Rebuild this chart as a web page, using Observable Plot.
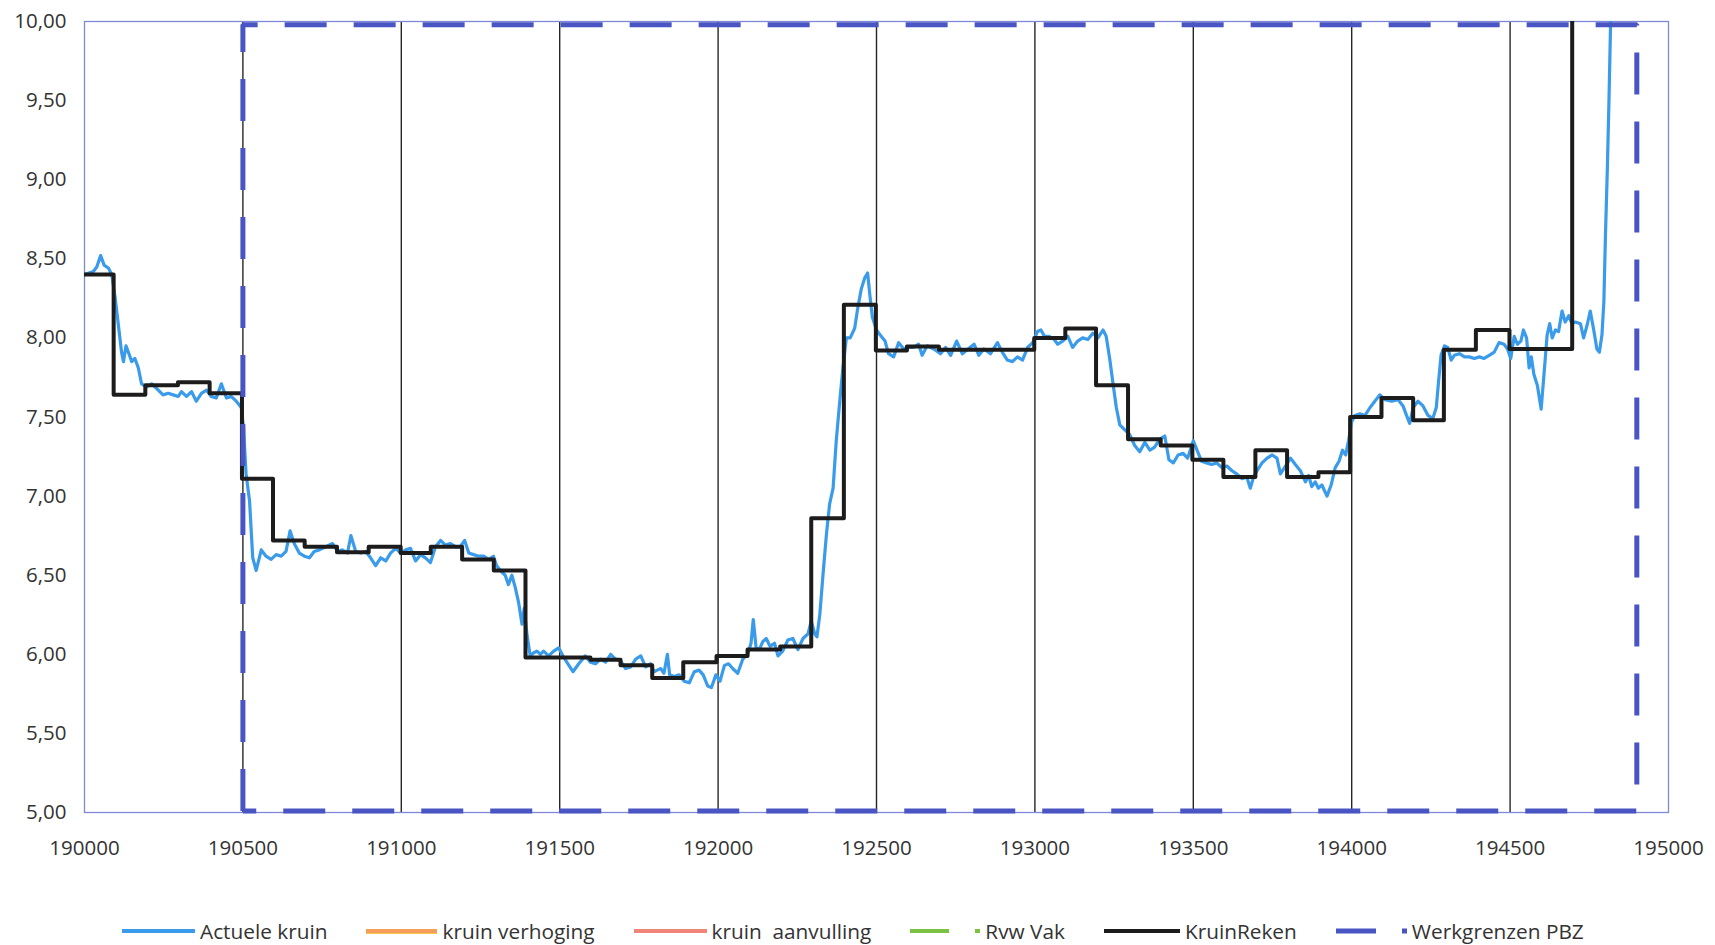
<!DOCTYPE html>
<html><head><meta charset="utf-8">
<script src="https://cdn.jsdelivr.net/npm/d3@7"></script>
<script src="https://cdn.jsdelivr.net/npm/@observablehq/plot@0.6"></script>
<style>
body{margin:0;background:#fff;font-family:"Open Sans",sans-serif;}
#legend{display:flex;align-items:center;height:29px;padding-left:122px;gap:39px;}
.item{display:flex;align-items:center;font-size:20.8px;color:#333;white-space:pre;}
.item svg{margin-right:5px;}
</style></head><body>
<div id="chart"></div><div id="legend"></div>
<script>
// Actuele kruin (measured crest level)
const actX=[190000,190028,190039,190051,190062,190076,190086,190097,190107,190117,190123,190131,190142,190149,190159,190170,190180,190196,190212,190228,190248,190264,190280,190296,190306,190322,190338,190353,190369,190385,190400,190416,190432,190448,190463,190479,190495,190502,190510,190521,190531,190542,190558,190573,190589,190605,190621,190636,190649,190662,190678,190694,190710,190725,190741,190762,190783,190799,190814,190830,190841,190856,190872,190888,190903,190919,190935,190951,190966,190982,190998,191014,191029,191045,191061,191076,191092,191108,191124,191139,191155,191171,191186,191200,191213,191228,191244,191260,191276,191291,191301,191317,191328,191338,191349,191360,191370,191381,191388,191397,191407,191418,191428,191439,191449,191465,191481,191497,191513,191529,191542,191560,191581,191597,191613,191629,191645,191661,191676,191692,191708,191724,191740,191756,191771,191787,191798,191808,191819,191829,191840,191847,191861,191877,191893,191909,191925,191940,191953,191967,191979,191993,192006,192020,192033,192046,192062,192078,192093,192104,192111,192120,192130,192141,192152,192164,192178,192189,192204,192220,192236,192252,192268,192284,192294,192305,192312,192321,192331,192342,192352,192363,192373,192384,192394,192405,192417,192431,192441,192452,192463,192472,192479,192487,192500,192511,192527,192538,192554,192570,192586,192601,192617,192633,192644,192660,192681,192702,192718,192734,192753,192771,192789,192808,192823,192839,192860,192882,192897,192913,192929,192945,192961,192977,192993,193008,193019,193030,193045,193061,193072,193088,193104,193119,193135,193151,193167,193183,193199,193215,193225,193236,193246,193257,193268,193283,193299,193315,193331,193347,193363,193378,193394,193410,193423,193437,193452,193468,193482,193500,193514,193526,193542,193558,193574,193590,193606,193622,193637,193653,193669,193680,193690,193701,193717,193733,193749,193764,193775,193791,193807,193822,193838,193854,193864,193874,193885,193895,193906,193922,193935,193948,193960,193971,193981,193990,194000,194010,194026,194042,194058,194073,194089,194105,194126,194146,194162,194173,194183,194194,194209,194225,194241,194256,194267,194274,194282,194293,194303,194314,194324,194340,194356,194371,194387,194403,194418,194434,194450,194465,194481,194492,194502,194513,194523,194534,194542,194552,194560,194567,194575,194586,194598,194607,194617,194625,194633,194643,194653,194664,194674,194685,194695,194706,194722,194732,194743,194753,194764,194774,194782,194790,194796,194801,194807,194812,194817,194820];
const actY=[8.40,8.42,8.45,8.52,8.46,8.44,8.40,8.25,8.08,7.91,7.85,7.95,7.89,7.85,7.87,7.81,7.71,7.69,7.71,7.68,7.64,7.65,7.64,7.63,7.66,7.63,7.66,7.60,7.65,7.67,7.63,7.62,7.71,7.62,7.63,7.60,7.56,7.43,7.14,6.97,6.61,6.53,6.66,6.62,6.60,6.63,6.62,6.65,6.78,6.70,6.64,6.62,6.61,6.65,6.66,6.68,6.70,6.65,6.66,6.64,6.75,6.65,6.64,6.65,6.61,6.56,6.61,6.59,6.64,6.67,6.64,6.66,6.67,6.59,6.63,6.61,6.58,6.68,6.72,6.69,6.70,6.68,6.68,6.72,6.64,6.63,6.62,6.62,6.60,6.62,6.56,6.52,6.50,6.44,6.50,6.42,6.33,6.19,6.29,6.12,5.99,6.01,6.02,6.00,6.02,5.99,6.02,6.04,5.98,5.93,5.89,5.94,5.99,5.95,5.94,5.97,5.95,6.00,5.97,5.96,5.91,5.92,5.97,5.99,5.92,5.94,5.89,5.90,5.91,5.88,6.00,5.87,5.86,5.87,5.83,5.82,5.89,5.90,5.87,5.80,5.79,5.87,5.83,5.93,5.94,5.91,5.88,5.97,6.00,6.07,6.22,6.04,6.03,6.08,6.10,6.05,6.07,5.99,6.02,6.09,6.10,6.03,6.10,6.13,6.21,6.13,6.11,6.25,6.50,6.76,6.95,7.05,7.35,7.60,7.81,8.00,8.00,8.06,8.19,8.31,8.38,8.41,8.27,8.13,8.05,8.02,7.98,7.90,7.88,7.97,7.93,7.94,7.94,7.96,7.89,7.95,7.93,7.90,7.94,7.89,7.98,7.90,7.93,7.96,7.89,7.93,7.90,7.97,7.91,7.86,7.85,7.88,7.86,7.94,7.97,8.04,8.05,8.01,8.01,7.99,7.96,7.98,8.01,7.94,7.98,8.00,7.99,8.03,8.00,8.05,8.01,7.87,7.72,7.56,7.45,7.42,7.39,7.32,7.28,7.34,7.29,7.31,7.36,7.38,7.23,7.21,7.26,7.27,7.24,7.35,7.28,7.22,7.21,7.20,7.21,7.18,7.19,7.16,7.14,7.11,7.12,7.05,7.12,7.16,7.21,7.24,7.26,7.24,7.14,7.19,7.24,7.20,7.16,7.09,7.13,7.06,7.09,7.05,7.07,7.00,7.07,7.18,7.22,7.29,7.26,7.35,7.47,7.51,7.52,7.51,7.56,7.60,7.64,7.61,7.60,7.61,7.57,7.51,7.46,7.56,7.60,7.57,7.51,7.49,7.56,7.72,7.89,7.95,7.94,7.86,7.89,7.90,7.88,7.88,7.87,7.88,7.87,7.89,7.91,7.97,7.96,7.93,7.87,8.01,7.96,7.98,8.05,8.00,7.81,7.88,7.77,7.70,7.55,7.77,8.02,8.09,8.00,8.05,8.04,8.17,8.10,8.14,8.09,8.10,8.09,8.00,8.08,8.17,8.05,7.93,7.91,8.02,8.23,8.65,9.07,9.49,9.97,10.20];

// KruinReken (step series: value holds from each x until the next)
const kruinX=[190000,190092,190192,190295,190395,190497,190595,190695,190797,190897,190998,191093,191192,191292,191392,191597,191692,191792,191890,191995,192093,192196,192294,192397,192498,192596,192697,192998,193096,193193,193294,193397,193497,193595,193696,193796,193895,193995,194094,194194,194291,194392,194498,194696];
const kruinY=[8.40,7.64,7.70,7.72,7.65,7.11,6.72,6.68,6.645,6.68,6.64,6.68,6.60,6.53,5.98,5.965,5.93,5.85,5.95,5.99,6.03,6.05,6.86,8.21,7.92,7.945,7.925,8.00,8.06,7.70,7.36,7.32,7.23,7.12,7.29,7.12,7.15,7.50,7.62,7.48,7.925,8.05,7.93,10.50];

// Werkgrenzen PBZ (work boundary rectangle)
const wgX=[190500,190500,194900,194900,190500];
const wgY=[5.01,9.98,9.98,5.01,5.01];

// vertical section lines and ticks
const gridX=[190500,191000,191500,192000,192500,193000,193500,194000,194500];
const xTicks=[190000,190500,191000,191500,192000,192500,193000,193500,194000,194500,195000];
const yTicks=[5,5.5,6,6.5,7,7.5,8,8.5,9,9.5,10];

const legendLabels=["Actuele kruin","kruin verhoging","kruin  aanvulling","Rvw Vak","KruinReken","Werkgrenzen PBZ"];
const legendColors=["#3a9bea","#f59e5b","#f2857a","#7cc242","#1c1c1c","#4a55c4"];

const act=actX.map((x,i)=>({x,y:actY[i]}));
const kr=kruinX.map((x,i)=>({x,y:kruinY[i]}));
const wg=wgX.map((x,i)=>({x,y:wgY[i]}));
const fmtY=d=>d.toFixed(2).replace(".",",");

const chart=Plot.plot({
  width:1715,height:916,
  marginLeft:84,marginRight:47,marginTop:21,marginBottom:104,
  style:{fontFamily:"'Open Sans', sans-serif",fontSize:"20.5px",color:"#333",background:"#fff"},
  x:{domain:[190000,195000],ticks:xTicks,tickFormat:d=>String(d),tickSize:0,tickPadding:28,label:null},
  y:{domain:[5,10],ticks:yTicks,tickFormat:fmtY,tickSize:0,tickPadding:18,label:null},
  marks:[
    Plot.ruleX(gridX,{stroke:"#262626",strokeWidth:1.4}),
    Plot.frame({stroke:"#7f88d6",strokeWidth:1.3}),
    Plot.line(act,{x:"x",y:"y",stroke:"#3a9bea",strokeWidth:3.2,clip:true}),
    Plot.line(kr,{x:"x",y:"y",stroke:"#1c1c1c",strokeWidth:4,curve:"step-after",clip:true}),
    Plot.line(wg,{x:"x",y:"y",stroke:"#4a55c4",strokeWidth:5,strokeDasharray:"42,27",strokeLinecap:"butt",strokeLinejoin:"miter"})
  ]
});
document.getElementById("chart").appendChild(chart);

// legend
const swatch=[
  {w:73,dash:null,h:4},
  {w:71,dash:null,h:4},
  {w:73,dash:null,h:4},
  {w:70,dash:"39,26",h:4},
  {w:76,dash:null,h:4},
  {w:71,dash:"40,26",h:5}
];
const leg=d3.select("#legend");
legendLabels.forEach((lab,i)=>{
  const it=leg.append("div").attr("class","item");
  const s=it.append("svg").attr("width",swatch[i].w).attr("height",10);
  s.append("line").attr("x1",0).attr("x2",swatch[i].w).attr("y1",5).attr("y2",5)
    .attr("stroke",legendColors[i]).attr("stroke-width",swatch[i].h)
    .attr("stroke-dasharray",swatch[i].dash);
  if(i===1){s.append("line").attr("x1",0).attr("x2",swatch[i].w).attr("y1",7.5).attr("y2",7.5).attr("stroke","#f6c84a").attr("stroke-width",1);}
  it.append("span").text(lab);
});
</script>
</body></html>
